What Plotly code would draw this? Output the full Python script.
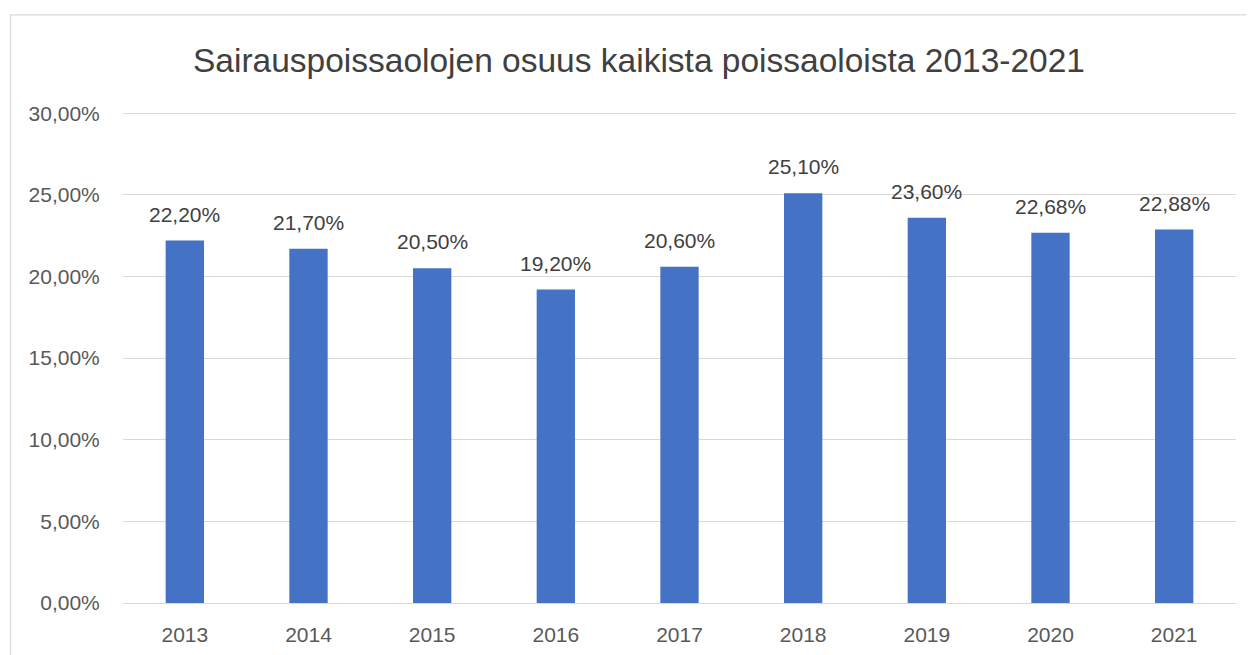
import plotly.graph_objects as go

years = ["2013", "2014", "2015", "2016", "2017", "2018", "2019", "2020", "2021"]
shares = [0.2220, 0.2170, 0.2050, 0.1920, 0.2060, 0.2510, 0.2360, 0.2268, 0.2288]
y_ticks = [0, 0.05, 0.10, 0.15, 0.20, 0.25, 0.30]

# page body adds an 8px offset; layout is expressed in figure pixels
OFF = 8
W, H = 1254, 655
YMAX = 0.302                       # a little headroom so the 30 % gridline is drawn
px_per_unit = 490 / 0.30           # 0 % at screen y=603, 30 % at y=113
pw = 1113
ph = YMAX * px_per_unit
L = 123 - OFF
T = 603 - ph - OFF
R, B = W - L - pw, H - T - ph

def fmt(v):
    return f"{v * 100:.2f}%".replace(".", ",")

fig = go.Figure(go.Bar(
    x=years, y=shares,
    marker=dict(color="#4472C4", line=dict(width=0)),
    hoverinfo="x+y",
))

# category axis: annotations are placed by category index
annotations = [
    dict(x=i, y=v, xref="x", yref="y", text=fmt(v), showarrow=False,
         yanchor="bottom", yshift=13,
         font=dict(size=21, color="#404040", family="Liberation Sans"))
    for i, v in enumerate(shares)
]

fig.update_layout(
    width=W, height=H,
    margin=dict(l=L, r=R, t=T, b=B),
    paper_bgcolor="white", plot_bgcolor="white",
    separators=",.",
    bargap=0.69,
    showlegend=False,
    font=dict(family="Liberation Sans", color="#595959"),
    title=dict(text="Sairauspoissaolojen osuus kaikista poissaoloista 2013-2021",
               x=(639 - OFF) / W, xref="container", xanchor="center",
               y=1 - (60 - OFF) / H, yref="container", yanchor="middle",
               font=dict(size=33.5, color="#404040", family="Liberation Sans")),
    xaxis=dict(type="category", categoryorder="array", categoryarray=years,
               range=[-0.5, len(years) - 0.5],
               showgrid=False, showline=False, ticks="outside", ticklen=13,
               tickcolor="rgba(0,0,0,0)", tickfont=dict(size=21, color="#595959")),
    yaxis=dict(range=[0, YMAX], tickvals=y_ticks, tickformat=".2%",
               showgrid=True, gridcolor="#D9D9D9", gridwidth=1.3,
               zeroline=True, zerolinecolor="#D9D9D9", zerolinewidth=1.3,
               showline=False, ticks="outside", ticklen=18,
               tickcolor="rgba(0,0,0,0)", tickfont=dict(size=21, color="#595959")),
    annotations=annotations,
    shapes=[dict(type="rect", xref="paper", yref="paper",
                 x0=(10.5 - 123) / pw, x1=1.2, y0=-0.3, y1=1 + (603 - ph - 14.5) / ph,
                 line=dict(color="#D9D9D9", width=1.3), layer="below")],
)

fig.write_html("out.html")
